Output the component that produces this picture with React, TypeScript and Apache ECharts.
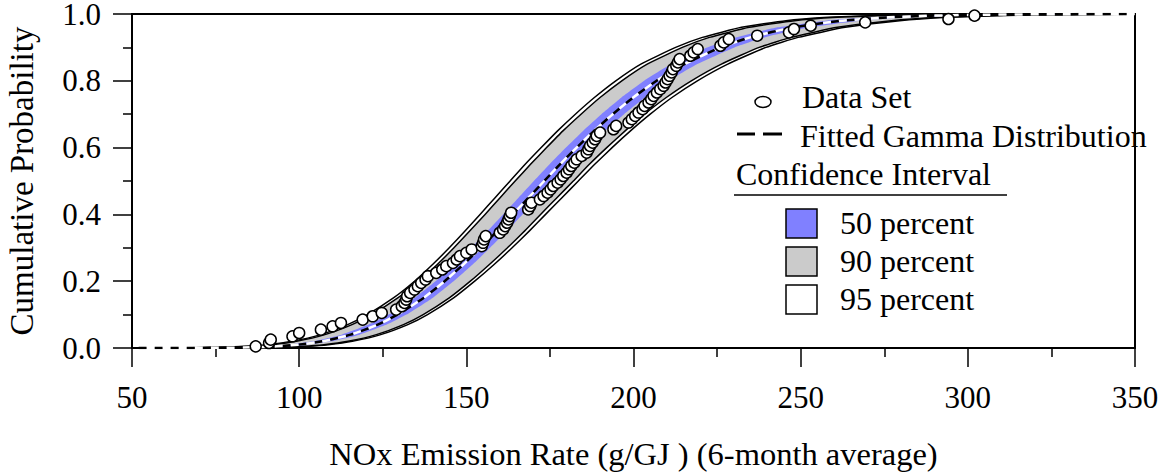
import React, { useEffect, useRef } from "react";
import * as echarts from "echarts";

const FONT = "Liberation Serif";

// Cumulative probability levels at which the fitted curve and the confidence bands are given
const pLevels = [0.0005, 0.002, 0.005, 0.01, 0.02, 0.04, 0.07, 0.1, 0.15, 0.2, 0.25, 0.3, 0.35, 0.4, 0.45, 0.5, 0.55, 0.6, 0.65, 0.7, 0.75, 0.8, 0.85, 0.9, 0.93, 0.96, 0.98, 0.99, 0.995, 0.998, 0.9995];

// Fitted gamma distribution (x value at each probability level)
const fitX = [76.7, 86.0, 93.3, 99.7, 106.9, 115.4, 123.5, 129.4, 137.2, 143.5, 149.1, 154.3, 159.2, 163.9, 168.6, 173.3, 178.0, 183.0, 188.2, 193.8, 199.9, 206.9, 215.2, 226.1, 234.9, 247.8, 262.6, 276.3, 289.3, 305.6, 328.8];

// Confidence bands: left (upper) and right (lower) boundaries
const ci95Left = [67.7, 77.0, 84.3, 90.7, 97.9, 106.4, 114.5, 120.4, 128.2, 134.5, 139.9, 144.9, 149.6, 154.1, 158.6, 163.1, 167.6, 172.4, 177.3, 182.6, 188.3, 194.7, 202.2, 212.6, 220.6, 232.3, 245.6, 258.3, 270.3, 286.6, 309.8];
const ci95Right = [85.7, 95.0, 102.3, 108.7, 115.9, 124.4, 132.5, 138.4, 146.2, 152.5, 158.3, 163.7, 168.8, 173.7, 178.6, 183.5, 188.4, 193.6, 199.1, 205.0, 211.5, 219.1, 228.2, 239.6, 249.2, 263.3, 279.6, 294.3, 308.3, 324.6, 347.8];
const ci90Left = [69.0, 78.3, 85.6, 92.0, 99.2, 107.7, 115.8, 121.7, 129.5, 135.8, 141.3, 146.3, 151.0, 155.6, 160.1, 164.6, 169.2, 174.0, 178.9, 184.3, 190.0, 196.5, 204.1, 214.6, 222.7, 234.6, 248.1, 261.0, 273.1, 289.4, 312.6];
const ci90Right = [84.4, 93.7, 101.0, 107.4, 114.6, 123.1, 131.2, 137.1, 144.9, 151.2, 156.9, 162.3, 167.4, 172.2, 177.1, 182.0, 186.8, 192.0, 197.5, 203.3, 209.8, 217.3, 226.3, 237.6, 247.1, 261.0, 277.1, 291.6, 305.5, 321.8, 345.0];
const ci50Left = [74.0, 83.3, 90.6, 97.0, 104.2, 112.7, 120.8, 126.7, 134.5, 140.8, 146.3, 151.5, 156.3, 161.0, 165.6, 170.2, 174.9, 179.8, 184.9, 190.4, 196.4, 203.2, 211.3, 222.0, 230.6, 243.1, 257.5, 270.9, 283.6, 299.9, 323.1];
const ci50Right = [79.4, 88.7, 96.0, 102.4, 109.6, 118.1, 126.2, 132.1, 139.9, 146.2, 151.9, 157.1, 162.1, 166.8, 171.6, 176.4, 181.1, 186.2, 191.5, 197.2, 203.4, 210.6, 219.1, 230.2, 239.2, 252.5, 267.7, 281.7, 295.0, 311.3, 334.5];

// Curve end points (start on the x axis, end at probability 1)
const curveStart: [number, number] = [52, 0];
const curveEnd: [number, number] = [350, 1];

// Observed data set (empirical cumulative probabilities)
const dataSet: [number, number][] = [
  [87, 0.005], [91, 0.015], [91.5, 0.025], [98, 0.035], [100, 0.045], [106.5, 0.055], [110, 0.065], [112.5, 0.075], [119, 0.085], [122, 0.095],
  [124.7, 0.105], [129, 0.115], [130.7, 0.125], [131.5, 0.135], [132, 0.145], [132.3, 0.155], [133.2, 0.165], [134.5, 0.175], [135.5, 0.185], [136.5, 0.195],
  [137.8, 0.205], [138.5, 0.215], [141, 0.225], [142.8, 0.235], [144, 0.245], [146, 0.255], [147.1, 0.265], [148.1, 0.275], [150, 0.285], [151.6, 0.295],
  [154.6, 0.305], [155, 0.315], [155.3, 0.325], [155.8, 0.335], [160, 0.345], [161, 0.355], [161.6, 0.365], [162.2, 0.375], [162.6, 0.385], [163, 0.395],
  [163.4, 0.405], [168.5, 0.415], [169.1, 0.425], [169.5, 0.435], [172, 0.445], [173.1, 0.455], [174.3, 0.465], [175.2, 0.475], [176, 0.485], [177.3, 0.495],
  [178.2, 0.505], [179, 0.515], [180, 0.525], [180.7, 0.535], [181.4, 0.545], [182.3, 0.555], [183, 0.565], [184.5, 0.575], [186, 0.585], [186.5, 0.595],
  [187, 0.605], [187.8, 0.615], [188.5, 0.625], [189, 0.635], [190, 0.645], [194, 0.655], [194.8, 0.665], [198.5, 0.675], [199.5, 0.685], [200.5, 0.695],
  [201.5, 0.705], [202.7, 0.715], [203.3, 0.725], [204.5, 0.735], [205.3, 0.745], [206, 0.755], [207, 0.765], [208, 0.775], [209, 0.785], [209.6, 0.795],
  [210.2, 0.805], [210.8, 0.815], [211.4, 0.825], [211.8, 0.835], [212.8, 0.845], [213.3, 0.855], [213.8, 0.865], [217, 0.875], [218, 0.885], [219.2, 0.895],
  [226, 0.905], [227, 0.915], [228.5, 0.925], [237, 0.935], [246.5, 0.945], [248, 0.955], [253, 0.965], [269.3, 0.975], [294.2, 0.985], [302, 0.995],
];

const legendItems = ["Data Set", "Fitted Gamma Distribution", "Confidence Interval", "50 percent", "90 percent", "95 percent"];
const bandColors = { c50: "#8080ff", c90: "#cbcbcb", c95: "#ffffff" };

function curve(xs: number[]): number[][] {
  return [curveStart, ...xs.map((x, i) => [x, pLevels[i]]), curveEnd];
}

function bandPolygon(left: number[], right: number[]): number[][] {
  const l = curve(left);
  const r = curve(right).reverse();
  return [...l, ...r];
}

function bandSeries(pts: number[][], fill: string, stroke: string | null, lw: number) {
  return {
    type: "custom",
    coordinateSystem: "cartesian2d",
    clip: true,
    silent: true,
    data: [[50, 0]],
    encode: { x: 0, y: 1 },
    renderItem: (_params: any, api: any) => ({
      type: "polygon",
      shape: { points: pts.map((p) => api.coord(p)), smooth: 0.15 },
      style: { fill, stroke: stroke || "none", lineWidth: lw },
    }),
  };
}

export default function App() {
  const ref = useRef<HTMLDivElement>(null);
  useEffect(() => {
    if (!ref.current) return;
    const chart = echarts.init(ref.current, null, { renderer: "svg" });
    const txt = { fontFamily: FONT, fontSize: 31, color: "#000" };
    const fitted = curve(fitX);
    const gText = (text: string, x: number, y: number) => ({
      type: "text",
      x,
      y,
      style: { text, fontFamily: FONT, fontSize: 32, fill: "#000", textVerticalAlign: "middle", verticalAlign: "middle" },
      z: 100,
    });
    const sq = (y: number, fill: string) => ({
      type: "rect",
      shape: { x: 786, y, width: 31, height: 29 },
      style: { fill, stroke: "#000", lineWidth: 1.5 },
      z: 100,
    });
    chart.setOption({
      animation: false,
      backgroundColor: "#fff",
      grid: {
        left: 132, right: 29, top: 14, bottom: 124,
        show: true, borderColor: "#000", borderWidth: 2,
        outerBoundsMode: "none", containLabel: false,
      },
      xAxis: {
        type: "value",
        min: 50,
        max: 350,
        interval: 50,
        axisLine: { show: true, onZero: false, lineStyle: { color: "#000", width: 2 } },
        axisTick: { show: true, length: 19, lineStyle: { color: "#000", width: 1.5 } },
        minorTick: { show: true, splitNumber: 2, length: 9, lineStyle: { color: "#000", width: 1.5 } },
        splitLine: { show: false },
        axisLabel: { ...txt, margin: 34 },
        name: "NOx Emission Rate (g/GJ ) (6-month average)",
        nameLocation: "middle",
        nameGap: 91,
        nameTextStyle: { ...txt, fontSize: 32.5, lineHeight: 30 },
      },
      yAxis: {
        type: "value",
        min: 0,
        max: 1,
        interval: 0.2,
        axisLine: { show: true, onZero: false, lineStyle: { color: "#000", width: 2 } },
        axisTick: { show: true, length: 19, lineStyle: { color: "#000", width: 1.5 } },
        minorTick: { show: true, splitNumber: 2, length: 9, lineStyle: { color: "#000", width: 1.5 } },
        splitLine: { show: false },
        axisLabel: { ...txt, margin: 31, lineHeight: 26, formatter: (v: number) => v.toFixed(1) },
        name: "Cumulative Probability",
        nameLocation: "middle",
        nameGap: 94,
        nameTextStyle: { ...txt, fontSize: 33 },
      },
      series: [
        bandSeries(bandPolygon(ci95Left, ci95Right), bandColors.c95, "#000", 1.5),
        bandSeries(bandPolygon(ci90Left, ci90Right), bandColors.c90, "#000", 1.5),
        bandSeries(bandPolygon(ci50Left, ci50Right), bandColors.c50, null, 0),
        {
          type: "line",
          data: fitted,
          showSymbol: false,
          smooth: 0.2,
          silent: true,
          lineStyle: { color: "#000", width: 2.5, type: [8, 8] },
        },
        {
          type: "line",
          data: fitted,
          showSymbol: false,
          smooth: 0.2,
          silent: true,
          lineStyle: { color: "#fff", width: 2.5, type: [8, 8], dashOffset: 8 },
        },
        {
          type: "scatter",
          name: legendItems[0],
          data: dataSet,
          symbol: "circle",
          symbolSize: 11,
          itemStyle: { color: "#fff", borderColor: "#000", borderWidth: 1.5, opacity: 1 },
          z: 10,
        },
      ],
      graphic: [
        { type: "ellipse", shape: { cx: 763, cy: 102, rx: 8, ry: 5.5 }, style: { fill: "#fff", stroke: "#000", lineWidth: 1.5 }, z: 100 },
        gText(legendItems[0], 802, 97),
        { type: "line", shape: { x1: 737, y1: 134, x2: 755, y2: 134 }, style: { stroke: "#000", lineWidth: 3 }, z: 100 },
        { type: "line", shape: { x1: 763, y1: 134, x2: 782, y2: 134 }, style: { stroke: "#000", lineWidth: 3 }, z: 100 },
        gText(legendItems[1], 800, 136),
        gText(legendItems[2], 736, 174),
        { type: "line", shape: { x1: 734, y1: 195, x2: 1007, y2: 195 }, style: { stroke: "#000", lineWidth: 1.5 }, z: 100 },
        sq(209, bandColors.c50),
        gText(legendItems[3], 840, 223),
        sq(247, bandColors.c90),
        gText(legendItems[4], 840, 261),
        sq(285, bandColors.c95),
        gText(legendItems[5], 840, 299),
      ],
    });
    return () => chart.dispose();
  }, []);
  return <div ref={ref} style={{ position: "fixed", left: 0, top: 0, width: 1164, height: 472 }} />;
}
